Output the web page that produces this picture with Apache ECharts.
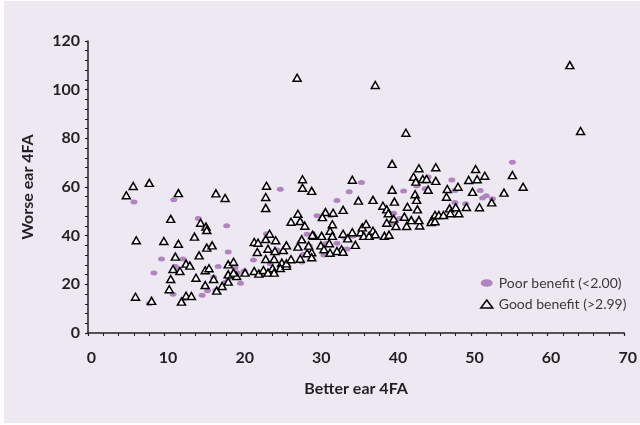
<!DOCTYPE html>
<html>
<head>
<meta charset="utf-8">
<script src="https://cdn.jsdelivr.net/npm/echarts@6/dist/echarts.min.js"></script>
<style>
html,body{margin:0;padding:0;background:#ffffff;}
#c{position:absolute;left:4px;top:1px;width:636px;height:422px;background:#EEE8F3;}
</style>
</head>
<body>
<div id="c"></div>
<script>
// Categories / labels
var xAxisTitle = "Better ear 4FA";
var yAxisTitle = "Worse ear 4FA";
var seriesNames = ["Poor benefit (<2.00)", "Good benefit (>2.99)"];
var xTicks = [0, 10, 20, 30, 40, 50, 60, 70];
var yTicks = [0, 20, 40, 60, 80, 100, 120];

// Poor benefit (<2.00): [better ear 4FA, worse ear 4FA]
var poorBenefit = [
  [6.0,53.8],[11.2,54.8],[25.1,59.1],[29.9,48.2],[35.7,61.8],[34.1,58.0],[32.5,54.5],
  [41.2,58.4],[44.4,64.1],[44.0,59.3],[47.5,62.9],[47.9,58.6],[51.2,58.6],[52.0,56.4],
  [51.5,55.5],[52.8,55.2],[55.4,70.2],[49.3,53.1],[47.9,53.6],[39.9,49.2],[31.7,48.2],
  [8.0,12.0],[9.6,30.4],[8.6,24.7],[12.4,30.4],[11.1,15.9],[11.4,27.3],[11.6,26.5],
  [12.5,14.0],[14.4,47.1],[14.9,15.5],[15.6,17.4],[16.7,17.6],[16.4,22.9],[17.0,27.3],
  [18.1,44.1],[18.3,33.3],[17.9,20.8],[18.3,22.7],[19.2,26.8],[19.5,24.8],[20.4,25.5],
  [19.9,20.4],[21.6,30.0],[23.3,40.8],[24.7,34.1],[23.8,28.5],[23.4,24.5],[23.0,24.0],
  [25.1,27.3],[27.9,29.2],[28.1,32.3],[28.6,40.6],[28.9,35.8],[31.1,36.9],[32.5,36.9],
  [30.8,32.1],[33.8,34.5],[33.5,39.2],[34.6,39.9],[35.6,40.3],[42.9,60.4],[43.1,46.0],
  [40.7,47.1],[39.7,45.1]
];

// Good benefit (>2.99): [better ear 4FA, worse ear 4FA]
var goodBenefit = [
  [5.0,56.6],[5.9,60.4],[8.0,61.7],[11.8,57.5],[16.7,57.4],[17.9,55.5],[23.3,60.5],
  [23.2,55.9],[23.2,51.4],[27.3,104.9],[28.0,63.2],[28.0,59.7],[29.2,58.4],[27.4,49.0],
  [37.5,101.9],[62.9,110.1],[41.5,82.3],[64.3,83.0],[39.7,69.5],[43.2,67.7],[45.4,68.1],
  [50.6,67.4],[51.8,64.6],[55.4,64.9],[56.8,60.1],[34.5,63.0],[35.3,54.4],[37.2,54.7],
  [39.7,58.9],[42.5,64.2],[42.8,62.2],[43.7,63.3],[44.2,63.3],[45.4,62.5],[44.4,58.9],
  [42.7,57.0],[42.9,54.7],[49.7,62.9],[50.8,63.2],[48.3,60.1],[46.9,59.2],[46.8,56.0],
  [50.2,58.0],[54.3,57.7],[52.7,53.7],[51.1,51.7],[49.4,51.8],[47.2,51.2],[48.4,49.2],
  [47.3,49.2],[40.0,54.0],[38.5,52.3],[39.0,50.8],[41.7,51.9],[43.0,50.8],[33.3,50.6],
  [32.0,49.4],[31.0,49.7],[30.6,47.6],[39.9,47.0],[41.3,47.8],[45.3,48.5],[45.8,48.5],
  [46.4,48.5],[44.9,46.4],[31.9,44.7],[31.6,42.0],[31.9,39.9],[30.5,39.9],[33.3,40.8],
  [33.9,38.9],[34.5,41.4],[35.6,41.4],[35.8,43.4],[36.3,44.8],[36.0,39.9],[36.7,39.9],
  [37.2,42.0],[37.5,40.6],[38.7,39.9],[39.3,40.4],[34.9,36.2],[31.5,36.9],[30.4,36.0],
  [30.8,34.4],[31.6,33.0],[33.1,34.4],[32.5,33.7],[33.3,33.4],[39.2,49.2],[39.0,45.3],
  [40.2,44.0],[41.6,44.0],[42.2,46.4],[43.3,44.2],[44.8,45.6],[45.3,45.9],[48.0,51.7],
  [43.2,46.4],[29.5,39.9],[6.2,14.9],[8.3,13.2],[6.3,38.1],[9.9,37.8],[10.8,46.9],
  [11.8,36.7],[11.4,31.4],[10.8,22.2],[10.6,18.0],[11.1,26.3],[12.0,25.5],[12.2,12.9],
  [12.8,15.3],[13.5,15.2],[12.8,28.5],[13.3,27.7],[13.9,39.6],[14.7,45.3],[15.4,43.7],
  [15.5,42.3],[14.5,31.9],[15.5,35.1],[16.2,36.0],[14.1,22.7],[15.3,25.8],[15.8,26.6],
  [15.3,19.7],[16.4,22.2],[16.8,17.4],[18.3,28.2],[19.0,29.3],[18.3,24.1],[18.3,21.1],
  [17.5,19.3],[19.4,23.4],[19.0,24.8],[20.5,24.8],[21.7,37.4],[22.2,37.1],[22.1,33.3],
  [21.7,25.5],[22.3,24.4],[22.9,25.9],[23.2,38.6],[23.7,40.8],[23.5,34.6],[24.5,38.1],
  [23.2,30.4],[24.3,30.4],[24.4,33.7],[24.1,26.6],[23.5,24.8],[24.3,24.8],[25.3,28.9],
  [25.1,26.7],[25.9,27.6],[25.5,34.1],[25.9,36.0],[25.9,28.6],[26.5,45.7],[26.5,30.3],
  [27.7,46.0],[28.3,44.1],[27.9,38.5],[27.4,35.5],[27.7,30.5],[29.2,33.2],[29.3,40.3],
  [28.6,32.8],[29.2,31.1],[28.8,35.9]
];

var chart = echarts.init(document.getElementById('c'), null, {renderer: 'canvas'});
var axisColor = '#231F20';
var ellipse = 'path://M0,5A8,5 0 1 1 16,5A8,5 0 1 1 0,5Z';
var labelFont = {fontFamily: 'Lato', fontWeight: 'bold', fontSize: 16, color: axisColor};

chart.setOption({
  animation: false,
  backgroundColor: '#EEE8F3',
  textStyle: {fontFamily: 'Lato'},
  grid: {left: 84, right: 6, top: 40, bottom: 90, containLabel: false},
  legend: {
    orient: 'vertical',
    left: 471,
    top: 270,
    itemWidth: 12,
    itemHeight: 8,
    itemGap: 7,
    textStyle: {fontFamily: 'Lato', fontSize: 14, color: '#3a3a3a', lineHeight: 14, padding: [0,0,0,1]},
    data: [
      {name: seriesNames[0], icon: ellipse},
      {name: seriesNames[1], icon: 'triangle', itemStyle: {color: 'transparent', borderColor: '#000', borderWidth: 1.5}}
    ]
  },
  xAxis: {
    type: 'value', min: xTicks[0], max: xTicks[xTicks.length - 1], interval: 10,
    name: xAxisTitle, nameLocation: 'middle', nameGap: 48,
    nameTextStyle: labelFont,
    axisLine: {show: true, onZero: false, lineStyle: {color: axisColor, width: 1.5}},
    axisTick: {show: true, length: 3, lineStyle: {color: axisColor, width: 1.2}},
    minorTick: {show: true, splitNumber: 5, length: 3, lineStyle: {color: axisColor, width: 1}},
    splitLine: {show: false},
    axisLabel: Object.assign({margin: 17, padding: [0,0,0,7],
      formatter: function (v) { return xTicks.indexOf(v) >= 0 ? String(v) : ''; }}, labelFont)
  },
  yAxis: {
    type: 'value', min: yTicks[0], max: yTicks[yTicks.length - 1], interval: 20,
    name: yAxisTitle, nameLocation: 'middle', nameGap: 52,
    nameTextStyle: labelFont,
    axisLine: {show: true, onZero: false, lineStyle: {color: axisColor, width: 1.5}},
    axisTick: {show: true, length: 3, lineStyle: {color: axisColor, width: 1.2}},
    minorTick: {show: true, splitNumber: 5, length: 3, lineStyle: {color: axisColor, width: 1}},
    splitLine: {show: false},
    axisLabel: Object.assign({margin: 8,
      formatter: function (v) { return yTicks.indexOf(v) >= 0 ? String(v) : ''; }}, labelFont)
  },
  series: [
    {
      name: seriesNames[0], type: 'scatter', data: poorBenefit,
      symbol: ellipse, symbolSize: [7, 5],
      itemStyle: {color: '#B084BF', opacity: 1},
      z: 2
    },
    {
      name: seriesNames[1], type: 'scatter', data: goodBenefit,
      symbol: 'triangle', symbolSize: [8, 7],
      itemStyle: {color: '#ffffff', borderColor: '#000000', borderWidth: 1.5, opacity: 1},
      z: 3
    }
  ]
});
</script>
</body>
</html>
